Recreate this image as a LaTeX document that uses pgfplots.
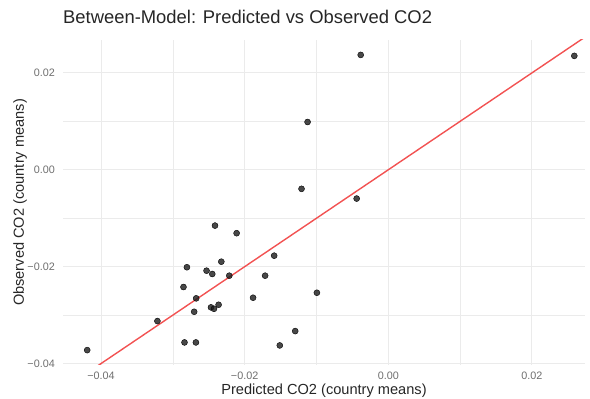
\documentclass[border=0pt]{standalone}
\usepackage{pgfplots}
\pgfplotsset{compat=1.18}
\usepackage{fontspec}
\setmainfont{Liberation Sans}
\definecolor{gridc}{HTML}{EBEBEB}
\definecolor{ticktext}{HTML}{6E6E6E}
\definecolor{titletext}{HTML}{262626}
\definecolor{fitred}{RGB}{242,82,82}
\definecolor{ptc}{HTML}{1A1A1A}
\begin{document}
\begin{tikzpicture}
\begin{axis}[
  scale only axis, width=522bp, height=325bp,
  xmin=-0.0453, xmax=0.0274, ymin=-0.0403, ymax=0.0268,
  scaled ticks=false,
  axis line style={draw=none},
  major tick length=0pt, minor tick length=0pt,
  xtick={-0.04,-0.02,0,0.02},
  xticklabels={−0.04,−0.02,0.00,0.02},
  minor xtick={-0.03,-0.01,0.01},
  ytick={-0.04,-0.02,0,0.02},
  yticklabels={−0.04,−0.02,0.00,0.02},
  minor ytick={-0.03,-0.01,0.01},
  grid=both,
  major grid style={draw=gridc, line width=1.1bp},
  minor grid style={draw=gridc, line width=0.55bp},
  tick label style={font=\fontsize{10.8bp}{12bp}\selectfont, text=ticktext, inner sep=0pt},
  xticklabel style={anchor=base, yshift=-14.5bp},
  yticklabel style={anchor=east, xshift=-8bp},
  title={Between-Model: Predicted vs Observed CO2},
  title style={at={(rel axis cs:0,1)}, anchor=base west, yshift=11bp, inner sep=0pt, text=titletext, font=\fontsize{18.4bp}{20bp}\selectfont},
  xlabel={Predicted CO2 (country means)},
  xlabel style={at={(rel axis cs:0.5,0)}, anchor=base, yshift=-29.5bp, inner sep=0pt, text=titletext, font=\fontsize{14.6bp}{16bp}\selectfont},
  ylabel={Observed CO2 (country means)},
  ylabel style={at={(rel axis cs:0,0.5)}, anchor=base, rotate=0, yshift=39bp, inner sep=0pt, text=titletext, font=\fontsize{14.6bp}{16bp}\selectfont},
  clip=true,
]
\addplot[only marks, mark=*, mark size=3bp, mark options={draw=none, fill=ptc, fill opacity=0.8}] coordinates {
(-0.00384,0.02372) (0.02591,0.02352) (-0.01124,0.00987) (-0.01208,-0.00393)
(-0.00440,-0.00594) (-0.02413,-0.01152) (-0.02112,-0.01309) (-0.01589,-0.01773)
(-0.02804,-0.02012) (-0.02325,-0.01897) (-0.02531,-0.02083) (-0.02451,-0.02151)
(-0.02214,-0.02186) (-0.01715,-0.02186) (-0.02852,-0.02420) (-0.02675,-0.02654)
(-0.01883,-0.02641) (-0.02703,-0.02931) (-0.02469,-0.02840) (-0.02427,-0.02869)
(-0.02363,-0.02786) (-0.03215,-0.03123) (-0.01296,-0.03330) (-0.02838,-0.03564)
(-0.02679,-0.03564) (-0.01511,-0.03626) (-0.00994,-0.02538) (-0.04193,-0.03723)
};
\addplot[fitred, line width=1.4bp] coordinates {(-0.05,-0.05) (0.03,0.03)};
\coordinate (sw) at (rel axis cs:0,0);
\end{axis}
\path (sw) ++(-63bp,-34bp) rectangle ++(590bp,399bp);
\end{tikzpicture}
\end{document}
